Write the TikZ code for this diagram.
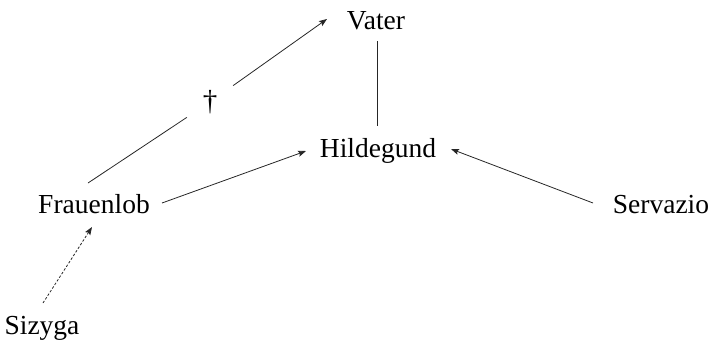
\documentclass[tikz,border=0pt]{standalone}
\usepackage{fontspec}
\setmainfont{Liberation Serif}
\usetikzlibrary{arrows.meta}
\begin{document}
\begin{tikzpicture}[x=1pt,y=-1pt,
  lbl/.style={anchor=base,inner sep=0pt,font=\fontsize{27.5}{30}\selectfont},
  conn/.style={line width=0.8pt,draw=black!85},
  arr/.style={conn,-{Stealth[length=8pt,width=6pt,inset=1.5pt]}},
  dashedarr/.style={arr,dash pattern=on 2.5pt off 1.8pt}]
\useasboundingbox (0,0) rectangle (711,341);
\node[lbl] (va) at (376,29) {Vater};
\node[lbl] (hi) at (378,157) {Hildegund};
\node[lbl] (fr) at (94,213) {Frauenlob};
\node[lbl] (se) at (661,213) {Servazio};
\node[lbl] (si) at (42,334) {Sizyga};
\node[font=\fontsize{29}{30}\selectfont,minimum width=46pt,minimum height=34pt,inner sep=0pt] (dg) at (210,102) {\dag};
% Frauenlob -- dagger -> Vater
\draw[conn] ([shift={(-6,-30)}]fr.base) -- (dg);
\draw[arr] (dg) -- ([shift={(-49,-10)}]va.base);
% Vater -- Hildegund
\draw[conn] ([shift={(1,12)}]va.base) -- ([shift={(-1,-31)}]hi.base);
% Frauenlob -> Hildegund
\draw[arr] ([shift={(68,-10)}]fr.base) -- ([shift={(-72,-6)}]hi.base);
% Servazio -> Hildegund
\draw[arr] ([shift={(-68,-10)}]se.base) -- ([shift={(73,-8)}]hi.base);
% Sizyga -> Frauenlob
\draw[dashedarr] ([shift={(1,-31)}]si.base) -- ([shift={(-2,14)}]fr.base);
\end{tikzpicture}
\end{document}
